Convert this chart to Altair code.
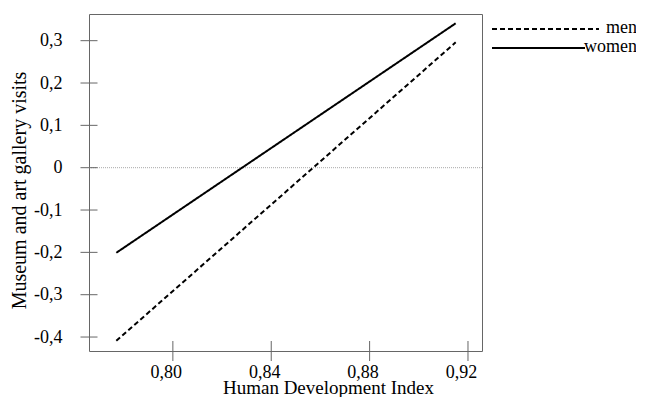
import altair as alt
import pandas as pd

# data
groups = ["men", "women"]
hdi = [0.777, 0.915]
men_vals = [-0.409, 0.296]
women_vals = [-0.201, 0.341]
x_ticks = [0.80, 0.84, 0.88, 0.92]
y_ticks = [-0.4, -0.3, -0.2, -0.1, 0.0, 0.1, 0.2, 0.3]

rows = []
for g, vals in zip(groups, [men_vals, women_vals]):
    for xv, yv in zip(hdi, vals):
        rows.append({"group": g, "hdi": xv, "visits": yv})
df = pd.DataFrame(rows)

FONT = "Liberation Serif"
W, H = 393, 337

xscale = alt.Scale(domain=[0.7659, 0.9257], nice=False, zero=False)
yscale = alt.Scale(domain=[-0.433, 0.363], nice=False, zero=False)

xaxis = alt.Axis(
    title="Human Development Index", values=x_ticks, grid=False, domain=False,
    ticks=False, tickSize=0, labelPadding=12, labelOffset=-7,
    labelExpr="replace(format(datum.value, '.2f'), '.', ',')",
    labelFontSize=18, titleFontSize=19, labelFont=FONT, titleFont=FONT,
    titleFontWeight="normal", labelColor="black", titleColor="black",
    titleX=239, titleY=42, titleAlign="center", titleBaseline="alphabetic",
)
yaxis = alt.Axis(
    title="Museum and art gallery visits", values=y_ticks, grid=False, domain=False,
    ticks=False, tickSize=0, labelPadding=27,
    labelExpr="datum.value == 0 ? '0' : (datum.value < 0 ? '-' : '') + replace(format(abs(datum.value), '.1f'), '.', ',')",
    labelFontSize=18, titleFontSize=20, labelFont=FONT, titleFont=FONT,
    titleFontWeight="normal", labelColor="black", titleColor="black",
    titlePadding=4, titleY=176, titleAnchor="middle",
)

# tick marks crossing the frame, drawn from the tick lists
yticks_layer = alt.Chart(pd.DataFrame({"v": y_ticks})).mark_tick(
    color="#666666", thickness=1, orient="horizontal", opacity=1
).encode(y=alt.Y("v:Q", scale=yscale, axis=yaxis), x=alt.value(0), size=alt.value(17))
xticks_layer = alt.Chart(pd.DataFrame({"v": x_ticks})).mark_tick(
    color="#666666", thickness=1, orient="vertical", opacity=1
).encode(x=alt.X("v:Q", scale=xscale, axis=xaxis), y=alt.value(H), size=alt.value(20))

zero = alt.Chart(pd.DataFrame({"z": [0.0]})).mark_rule(
    color="#aaa", strokeWidth=1, strokeDash=[1, 1]
).encode(y=alt.Y("z:Q", scale=yscale, axis=yaxis))

lines = alt.Chart(df).mark_line(color="black", strokeWidth=2).encode(
    x=alt.X("hdi:Q", scale=xscale, axis=xaxis),
    y=alt.Y("visits:Q", scale=yscale, axis=yaxis),
    strokeDash=alt.StrokeDash("group:N", scale=alt.Scale(domain=groups, range=[[5, 3], [1, 0]]), legend=None),
    detail="group:N",
)

# custom legend (decoration)
leg_men_line = alt.Chart(pd.DataFrame({"g": [groups[0]]})).mark_rule(
    color="black", strokeWidth=2, strokeDash=[5, 3]
).encode(x=alt.value(403), x2=alt.value(510), y=alt.value(15))
leg_women_line = alt.Chart(pd.DataFrame({"g": [groups[1]]})).mark_rule(
    color="black", strokeWidth=2
).encode(x=alt.value(403), x2=alt.value(496), y=alt.value(34))
leg_men_text = alt.Chart(pd.DataFrame({"g": [groups[0]]})).mark_text(
    font=FONT, fontSize=18, align="right", baseline="middle", color="black"
).encode(text="g:N", x=alt.value(548), y=alt.value(14))
leg_women_text = alt.Chart(pd.DataFrame({"g": [groups[1]]})).mark_text(
    font=FONT, fontSize=18, align="right", baseline="middle", color="black"
).encode(text="g:N", x=alt.value(548), y=alt.value(33))

chart = alt.layer(
    zero, yticks_layer, xticks_layer, lines,
    leg_men_line, leg_women_line, leg_men_text, leg_women_text
).properties(
    width=W, height=H,
    autosize=alt.AutoSizeParams(type="none"),
    padding={"left": 81, "top": 6, "right": 154, "bottom": 46},
).configure_view(stroke="#666", strokeWidth=1)

chart.save("out.html", embed_options={"renderer": "svg", "actions": False})
